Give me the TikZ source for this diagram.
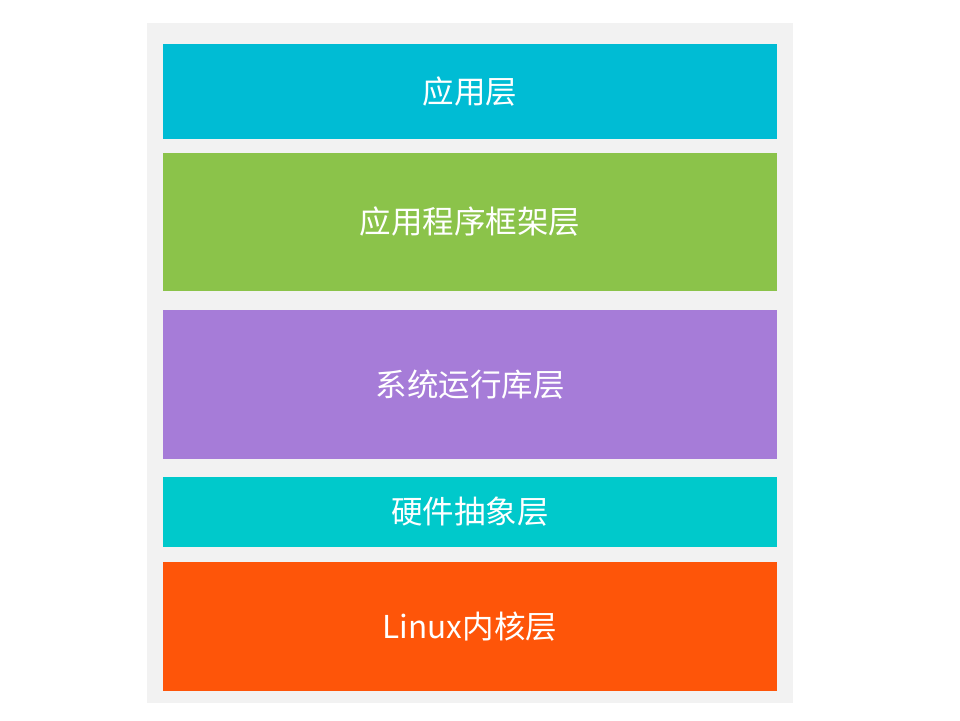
\documentclass[tikz,border=0pt]{standalone}
\usepackage{fontspec}
\newfontfamily\cjk{Noto Sans CJK SC}
\definecolor{appcol}{HTML}{00BCD4}
\definecolor{fwcol}{HTML}{8BC34A}
\definecolor{rtcol}{HTML}{A67CD8}
\definecolor{halcol}{HTML}{00C9CB}
\definecolor{krncol}{HTML}{FE5509}
\definecolor{panelcol}{HTML}{F2F2F2}

\begin{document}
\begin{tikzpicture}[x=1pt,y=-1pt,
    layer/.style={inner sep=0pt, outer sep=0pt, minimum width=614pt,
      text=white, font=\cjk\fontsize{31.5}{31.5}\selectfont}]
  \useasboundingbox (0,0) rectangle (960,720);
  \fill[panelcol] (147,23) rectangle (793,703);
  \node[layer, fill=appcol, minimum height=95pt] (app) at (470,91.5) {应用层};
  \node[layer, fill=fwcol, minimum height=138pt] (fw) at (470,222) {应用程序框架层};
  \node[layer, fill=rtcol, minimum height=149pt] (rt) at (470,384.5) {系统运行库层};
  \node[layer, fill=halcol, minimum height=70pt] (hal) at (470,512) {硬件抽象层};
  \node[layer, fill=krncol, minimum height=129pt] (krn) at (470,626.5) {Linux内核层};
\end{tikzpicture}
\end{document}
